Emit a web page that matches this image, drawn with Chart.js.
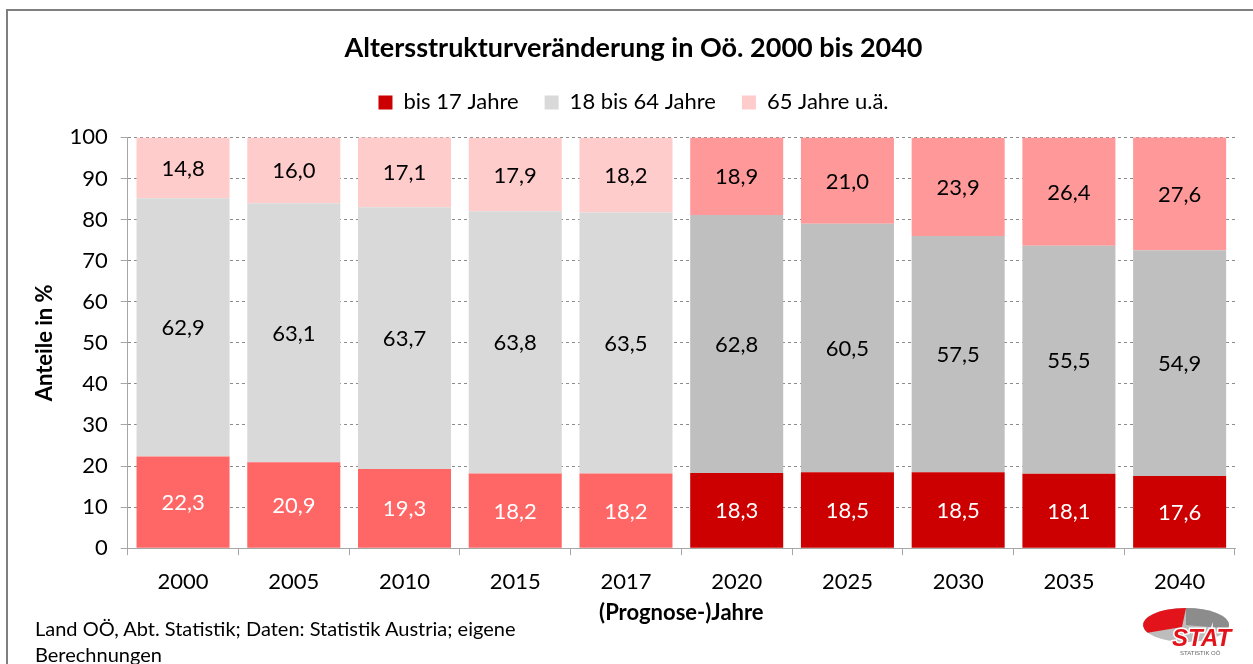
<!DOCTYPE html>
<html>
<head>
<meta charset="utf-8">
<script src="https://cdn.jsdelivr.net/npm/chart.js@4"></script>
<style>
  body { margin: 0; background: #fff; }
  #wrap { position: relative; width: 1253px; height: 664px; }
  #source {
    position: absolute; left: 35px; top: 615px;
    font: 20px Lato, sans-serif; line-height: 26px; color: #000;
  }
</style>
</head>
<body>
<div id="wrap">
  <canvas id="chart" width="1253" height="664"></canvas>
  <div id="source">Land OÖ, Abt. Statistik; Daten: Statistik Austria; eigene<br>Berechnungen</div>
</div>
<script>
// data
const years = ['2000', '2005', '2010', '2015', '2017', '2020', '2025', '2030', '2035', '2040'];
const bis17 = [22.3, 20.9, 19.3, 18.2, 18.2, 18.3, 18.5, 18.5, 18.1, 17.6];
const bis64 = [62.9, 63.1, 63.7, 63.8, 63.5, 62.8, 60.5, 57.5, 55.5, 54.9];
const ab65 = [14.8, 16.0, 17.1, 17.9, 18.2, 18.9, 21.0, 23.9, 26.4, 27.6];
const seriesNames = ['bis 17 Jahre', '18 bis 64 Jahre', '65 Jahre u.ä.'];
const yTicks = [0, 10, 20, 30, 40, 50, 60, 70, 80, 90, 100];

// first five years are observed, rest is forecast (darker shades)
const lastObserved = 4;
const pastColors = ['#FF6666', '#D9D9D9', '#FFCCCC'];
const futureColors = ['#CC0000', '#BFBFBF', '#FF9999'];
const legendColors = ['#CC0000', '#D9D9D9', '#FFCCCC'];
const labelColors = ['#fff', '#000', '#000'];

const FONT = 'Lato, "Open Sans", sans-serif';

function shades(k) {
    return years.map((y, i) => i <= lastObserved ? pastColors[k] : futureColors[k]);
}

const frame = {
    id: 'frame',
    beforeDraw(chart) {
        const ctx = chart.ctx;
        ctx.save();
        ctx.fillStyle = '#fff';
        ctx.fillRect(0, 0, chart.width, chart.height);
        ctx.strokeStyle = '#7f7f7f';
        ctx.lineWidth = 2;
        ctx.beginPath();
        ctx.moveTo(7, chart.height);
        ctx.lineTo(7, 10);
        ctx.lineTo(chart.width, 10);
        ctx.stroke();
        ctx.restore();
    }
};

// a bit more room between legend and plot
const legendGap = {
    id: 'legendGap',
    beforeLayout(chart) {
        const lg = chart.legend;
        if (lg && !lg._gap) {
            const fit = lg.fit;
            lg.fit = function () {
                fit.apply(this, arguments);
                this.height += 14;
            };
            lg._gap = true;
        }
    }
};

// value labels in the middle of each segment
const valueLabels = {
    id: 'valueLabels',
    afterDatasetsDraw(chart) {
        const ctx = chart.ctx;
        ctx.save();
        ctx.font = '22px ' + FONT;
        ctx.textAlign = 'center';
        ctx.textBaseline = 'middle';
        chart.data.datasets.forEach((ds, i) => {
            chart.getDatasetMeta(i).data.forEach((bar, j) => {
                const p = bar.getCenterPoint();
                ctx.fillStyle = labelColors[i];
                ctx.fillText(ds.data[j].toFixed(1).replace('.', ','), p.x, p.y + 1);
            });
        });
        ctx.restore();
    }
};

// small STAT logo bottom right
const logo = {
    id: 'logo',
    afterDraw(chart) {
        const ctx = chart.ctx;
        const cx = 1186, cy = 625;
        ctx.save();
        ctx.fillStyle = '#bdbdbd';
        ctx.beginPath();
        ctx.ellipse(cx, cy, 43, 17, 0, 0, Math.PI * 2);
        ctx.fill();
        ctx.fillStyle = '#8c8c8c';
        ctx.beginPath();
        ctx.moveTo(cx, cy);
        ctx.ellipse(cx, cy, 43, 17, 0, -Math.PI / 2, 0.2);
        ctx.closePath();
        ctx.fill();
        ctx.fillStyle = '#e3131b';
        ctx.beginPath();
        ctx.moveTo(cx - 4, cy + 2);
        ctx.ellipse(cx, cy, 43, 17, 0, Math.PI * 0.85, Math.PI * 1.5);
        ctx.closePath();
        ctx.fill();
        ctx.font = 'italic bold 24px "Liberation Sans", sans-serif';
        ctx.textAlign = 'left';
        ctx.textBaseline = 'alphabetic';
        ctx.lineWidth = 3;
        ctx.strokeStyle = '#fff';
        ctx.strokeText('STAT', 1172, 646);
        ctx.fillStyle = '#e3131b';
        ctx.fillText('STAT', 1172, 646);
        ctx.font = '6px "Liberation Sans", sans-serif';
        ctx.fillStyle = '#666';
        ctx.fillText('STATISTIK OÖ', 1180, 655);
        ctx.restore();
    }
};

new Chart(document.getElementById('chart'), {
    type: 'bar',
    data: {
        labels: years,
        datasets: [
            { label: seriesNames[0], data: bis17, backgroundColor: shades(0) },
            { label: seriesNames[1], data: bis64, backgroundColor: shades(1) },
            { label: seriesNames[2], data: ab65, backgroundColor: shades(2) }
        ]
    },
    options: {
        responsive: false,
        animation: false,
        layout: { padding: { top: 24, left: 32, right: 18, bottom: 38 } },
        datasets: { bar: { barPercentage: 0.84, categoryPercentage: 1 } },
        plugins: {
            tooltip: { enabled: false },
            title: {
                display: true,
                text: 'Altersstrukturveränderung in Oö. 2000 bis 2040',
                color: '#000',
                font: { family: FONT, size: 27, weight: 'bold' },
                padding: { top: 8, bottom: 1 }
            },
            legend: {
                labels: {
                    color: '#000',
                    font: { family: FONT, size: 22 },
                    boxWidth: 14,
                    boxHeight: 14,
                    padding: 26,
                    generateLabels: () => seriesNames.map((n, i) => ({
                        text: n, fillStyle: legendColors[i], strokeStyle: legendColors[i],
                        lineWidth: 0, datasetIndex: i
                    }))
                }
            }
        },
        scales: {
            x: {
                stacked: true,
                grid: { drawOnChartArea: false, tickLength: 7, color: '#a6a6a6' },
                border: { color: '#a6a6a6' },
                ticks: { color: '#000', font: { family: FONT, size: 22 }, padding: 14 },
                title: {
                    display: true, text: '(Prognose-)Jahre', color: '#000',
                    font: { family: FONT, size: 22, weight: 'bold' }, padding: { top: -10, bottom: 0 }
                }
            },
            y: {
                stacked: true,
                min: 0,
                max: 100,
                afterBuildTicks: axis => { axis.ticks = yTicks.map(v => ({ value: v })); },
                grid: {
                    color: '#8c8c8c', tickColor: '#a6a6a6', tickLength: 7,
                    tickBorderDash: [], z: -1
                },
                border: { color: '#a6a6a6', dash: [3, 3] },
                ticks: { color: '#000', font: { family: FONT, size: 22 }, padding: 13 },
                title: {
                    display: true, text: 'Anteile in %', color: '#000',
                    font: { family: FONT, size: 22, weight: 'bold' }, padding: { top: 0, bottom: -2 }
                }
            }
        }
    },
    plugins: [frame, legendGap, valueLabels, logo]
});
</script>
</body>
</html>
